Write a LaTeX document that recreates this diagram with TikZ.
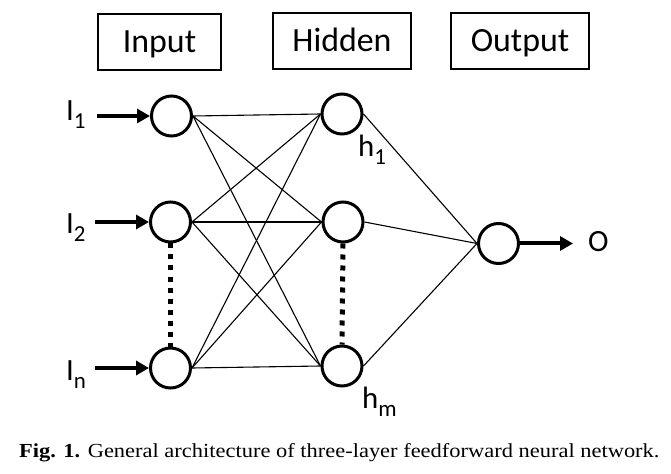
\documentclass[tikz,border=0pt]{standalone}
\usepackage{fontspec}
\setmainfont{Carlito}
\newfontfamily\capfont{Liberation Serif}
\usetikzlibrary{arrows.meta}
\newcommand\lowsub[1]{\raisebox{-8bp}{\fontsize{23}{23}\selectfont #1}}
\begin{document}
\begin{tikzpicture}[x=1bp,y=-1bp,
 neuron/.style={circle,draw,line width=3bp,minimum size=40bp,inner sep=0pt},
 layerbox/.style={draw,line width=1.3bp,minimum height=56bp,inner sep=0pt,font=\fontsize{34}{34}\selectfont,text height=21.5bp,text depth=0bp},
 link/.style={line width=1.1bp},
 feed/.style={line width=4bp,-{Triangle[length=13bp,width=14bp]}},
 dots/.style={line width=5bp,dash pattern=on 5bp off 6bp},
 lab/.style={font=\fontsize{31}{31}\selectfont,inner sep=0pt,anchor=base west}]
\useasboundingbox (0,0) rectangle (671,474);
\fill[white] (0,0) rectangle (671,474);

\node[layerbox,minimum width=123bp] (bin) at (159.5,42) {Input};
\node[layerbox,minimum width=138bp] (bhid) at (342,41) {Hidden};
\node[layerbox,minimum width=138bp] (bout) at (520,41) {Output};

\node[neuron] (i1) at (171.5,116) {};
\node[neuron] (i2) at (170.5,222) {};
\node[neuron] (in) at (170.5,368) {};
\node[neuron] (h1) at (342,114) {};
\node[neuron] (h2) at (343,222) {};
\node[neuron] (hm) at (342,366) {};
\node[neuron] (o) at (498.5,243.5) {};

\foreach \a in {i1,i2,in}
  \foreach \b in {h1,h2,hm}
    \draw[link] (\a.east) -- (\b.west);
\foreach \b in {h1,h2,hm}
  \draw[link] (\b.east) -- (o.west);

\draw[dots] (i2.south) -- (in.north);
\draw[dots] (h2.south) -- (hm.north);

\coordinate (a1) at (97,116);
\coordinate (a2) at (95,222);
\coordinate (an) at (95,368);
\coordinate (oend) at (573,243.5);
\draw[feed] (a1) -- (i1.west);
\draw[feed] (a2) -- (i2.west);
\draw[feed] (an) -- (in.west);
\draw[feed] (o.east) -- (oend);

\node[lab] (l1) at (66,121) {I\lowsub{1}};
\node[lab] (l2) at (66,234) {I\lowsub{2}};
\node[lab] (ln) at (66,380) {I\lowsub{n}};
\node[lab] (lh1) at (358,157) {h\lowsub{1}};
\node[lab] (lhm) at (362,408) {h\lowsub{m}};
\node[lab] (lo) at (588,252) {O};

\node[anchor=base west,inner sep=0pt,font=\capfont\fontsize{20}{20}\selectfont] (cap) at (19,457) {\scalebox{1.127}[1]{\textbf{Fig. 1.} General architecture of three-layer feedforward neural network.}};
\end{tikzpicture}
\end{document}
